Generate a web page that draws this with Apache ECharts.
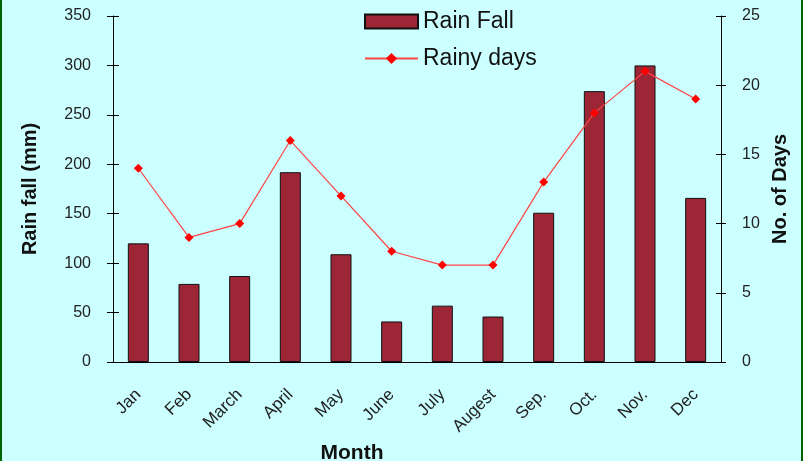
<!DOCTYPE html>
<html>
<head>
<meta charset="utf-8">
<script src="https://cdn.jsdelivr.net/npm/echarts@6/dist/echarts.min.js"></script>
<style>
  html, body { margin: 0; padding: 0; background: #ccffff; }
  #wrap { position: relative; width: 803px; height: 461px; }
  #chart { width: 803px; height: 461px; }
  #frame { position: absolute; left: 0; top: 0; width: 799px; height: 461px;
           border-left: 2px solid #006400; border-right: 2px solid #006400; pointer-events: none; }
</style>
</head>
<body>
<div id="wrap">
  <div id="chart"></div>
  <div id="frame"></div>
</div>
<script>
var months = ['Jan', 'Feb', 'March', 'April', 'May', 'June', 'July', 'Augest', 'Sep.', 'Oct.', 'Nov.', 'Dec'];
var rainFall = [120, 79, 87, 192, 109, 41, 57, 46, 151, 274, 300, 166];
var rainyDays = [14, 9, 10, 16, 12, 8, 7, 7, 13, 18, 21, 19];
var rainTicks = [0, 350, 50];
var dayTicks = [0, 25, 5];

var font = 'Liberation Sans, Arial, sans-serif';
var tickStyle = { color: '#222', fontSize: 16, fontFamily: font };

var chart = echarts.init(document.getElementById('chart'));
var option = {
    backgroundColor: '#ccffff',
    animation: false,
    grid: { left: 113, right: 82, top: 16, bottom: 99, containLabel: false, outerBoundsMode: 'none' },
    legend: {
        orient: 'vertical',
        left: 359,
        top: 5,
        itemWidth: 53,
        itemHeight: 14,
        itemGap: 14,
        textStyle: { fontSize: 23, color: '#111', fontFamily: font },
        data: [{ name: 'Rain Fall', icon: 'rect' }, 'Rainy days']
    },
    xAxis: [
        {
            type: 'category',
            data: months,
            name: 'Month',
            nameLocation: 'middle',
            nameGap: 78,
            nameTextStyle: { fontSize: 21, fontWeight: 'bold', color: '#111', fontFamily: font, padding: [0, 130, 0, 0] },
            axisLine: { lineStyle: { color: '#000', width: 1 } },
            axisTick: { length: 7, lineStyle: { color: '#000' } },
            axisLabel: { rotate: 45, margin: 30, fontSize: 17, color: '#222', fontFamily: font }
        },
        {
            type: 'category',
            data: months,
            position: 'bottom',
            axisLine: { show: false },
            axisTick: { inside: true, length: 7, lineStyle: { color: '#000' } },
            axisLabel: { show: false }
        }
    ],
    yAxis: [
        {
            type: 'value',
            position: 'left',
            min: rainTicks[0], max: rainTicks[1], interval: rainTicks[2],
            name: 'Rain fall (mm)',
            nameLocation: 'middle',
            nameRotate: 90,
            nameGap: 73,
            nameTextStyle: { fontSize: 20, fontWeight: 'bold', color: '#111', fontFamily: font },
            axisLine: { show: true, lineStyle: { color: '#000' } },
            axisTick: { show: true, length: 6, lineStyle: { color: '#000' } },
            axisLabel: Object.assign({ margin: 22 }, tickStyle),
            splitLine: { show: false }
        },
        {
            type: 'value',
            position: 'right',
            min: dayTicks[0], max: dayTicks[1], interval: dayTicks[2],
            name: 'No. of Days',
            nameLocation: 'middle',
            nameRotate: 90,
            nameGap: 49,
            nameTextStyle: { fontSize: 20, fontWeight: 'bold', color: '#111', fontFamily: font },
            axisLine: { show: true, lineStyle: { color: '#000' } },
            axisTick: { show: true, length: 5, lineStyle: { color: '#000' } },
            axisLabel: Object.assign({ margin: 21 }, tickStyle),
            splitLine: { show: false }
        },
        {
            type: 'value',
            position: 'left',
            min: rainTicks[0], max: rainTicks[1], interval: rainTicks[2],
            axisLine: { show: false },
            axisTick: { show: true, inside: true, length: 6, lineStyle: { color: '#000' } },
            axisLabel: { show: false },
            splitLine: { show: false }
        },
        {
            type: 'value',
            position: 'right',
            min: dayTicks[0], max: dayTicks[1], interval: dayTicks[2],
            axisLine: { show: false },
            axisTick: { show: true, inside: true, length: 5, lineStyle: { color: '#000' } },
            axisLabel: { show: false },
            splitLine: { show: false }
        }
    ],
    series: [
        {
            name: 'Rain Fall',
            type: 'bar',
            yAxisIndex: 0,
            barWidth: 21,
            data: rainFall,
            itemStyle: { color: '#9c2635', borderColor: '#111', borderWidth: 1 }
        },
        {
            name: 'Rainy days',
            type: 'line',
            yAxisIndex: 1,
            data: rainyDays,
            symbol: 'diamond',
            symbolSize: 9,
            lineStyle: { color: '#ff4444', width: 1.2 },
            itemStyle: { color: '#ff0000' }
        }
    ]
};
chart.setOption(option);
</script>
</body>
</html>
